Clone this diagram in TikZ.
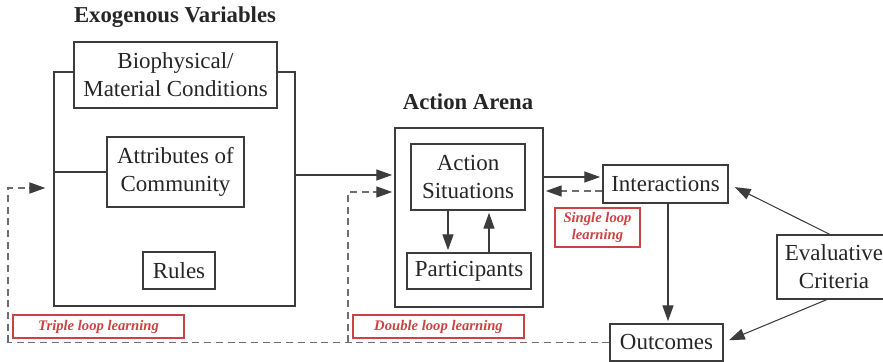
\documentclass[tikz,border=0pt]{standalone}
\usepackage{fontspec}
\setmainfont{Liberation Serif}
\usepackage{xcolor}
\usetikzlibrary{arrows.meta,positioning,calc}

\definecolor{linegray}{RGB}{60,60,60}
\definecolor{dashgray}{RGB}{110,110,110}
\definecolor{loopred}{RGB}{204,66,66}

\begin{document}
\begin{tikzpicture}[x=0.03cm, y=-0.03cm, >={Triangle[length=13.5pt,width=9.5pt,color=linegray]},
    box/.style={draw=linegray, line width=0.9pt, fill=white, inner sep=0pt, align=center,
        text=black!85, font=\fontsize{19.6}{23.8}\selectfont},
    title/.style={font=\fontsize{19.4}{23}\selectfont\bfseries, text=black!85},
    loopbox/.style={draw=loopred, line width=1.1pt, inner sep=0pt, align=center, text=loopred,
        font=\fontsize{12.5}{15}\selectfont\bfseries\itshape},
    link/.style={draw=linegray, line width=0.9pt, shorten >=2pt},
    feedback/.style={draw=dashgray, line width=0.9pt, dash pattern=on 6pt off 4pt, shorten >=2pt}]
    \useasboundingbox (0,0) rectangle (883,362);
    \clip (0,0) rectangle (883,362);

    % Exogenous variables
    \node[title] (exotitle) at (175,17) {Exogenous Variables};
    \node[box, minimum width=241*0.03cm, minimum height=234*0.03cm] (exo) at (174.5,189) {};
    \node[box, minimum width=203*0.03cm, minimum height=66*0.03cm] (bio) at (175.5,75) {Biophysical/\\Material Conditions};
    \node[box, minimum width=137*0.03cm, minimum height=70*0.03cm] (attr) at (175.5,172) {Attributes of\\Community};
    \node[box, minimum width=72*0.03cm, minimum height=37*0.03cm] (rules) at (179,270.5) {Rules};
    \draw[link, shorten >=0pt] (attr.west) -- (attr.west -| exo.west);

    % Action arena
    \node[title] (arenatitle) at (468,102) {Action Arena};
    \node[box, minimum width=148*0.03cm, minimum height=179*0.03cm] (arena) at (469,217.5) {};
    \node[box, minimum width=114*0.03cm, minimum height=66*0.03cm] (situ) at (468,177) {Action\\Situations};
    \node[box, minimum width=124*0.03cm, minimum height=36*0.03cm] (part) at (469,271) {Participants};
    \draw[link, ->] (situ.south -| 448,0) -- (part.north -| 448,0);
    \draw[link, ->] (part.north -| 489,0) -- (situ.south -| 489,0);

    % Outcomes and evaluation
    \node[box, minimum width=125*0.03cm, minimum height=38*0.03cm] (inter) at (665.5,184) {Interactions};
    \node[box, minimum width=113*0.03cm, minimum height=37*0.03cm] (outc) at (666.5,342.5) {Outcomes};
    \node[box, minimum width=114*0.03cm, minimum height=64*0.03cm] (evalc) at (834,267) {Evaluative\\Criteria};

    \draw[link, ->] (exo.east |- 0,175) -- (arena.west |- 0,175);
    \draw[link, ->] (arena.east |- 0,177) -- (inter.west |- 0,177);
    \draw[link, ->] (inter.south -| 668,0) -- (outc.north -| 668,0);
    \draw[link, ->, shorten >=6pt] ($(evalc.north)+(-4,0)$) -- (inter.east);
    \draw[link, ->, shorten >=5pt] ($(evalc.south)+(-7,0)$) -- (outc.east);

    % Learning loops
    \coordinate (dbl) at (348,342.5);
    \coordinate (tpl) at (8,342.5);
    \draw[feedback, ->] (inter.west |- 0,191) -- (arena.east |- 0,191);
    \draw[feedback, shorten >=0pt] (outc.west) -- (tpl);
    \draw[feedback, ->] (dbl) -- (dbl |- 0,192) -- (arena.west |- 0,192);
    \draw[feedback, ->, shorten >=7pt] (tpl) -- (tpl |- 0,188) -- (exo.west |- 0,188);

    \node[loopbox, minimum width=171*0.03cm, minimum height=23*0.03cm] (triple) at (98.5,326.5) {Triple loop learning};
    \node[loopbox, minimum width=171*0.03cm, minimum height=23*0.03cm] (double) at (438.5,326.5) {Double loop learning};
    \node[loopbox, minimum width=85*0.03cm, minimum height=39*0.03cm] (single) at (597.5,227.5) {Single loop\\learning};
\end{tikzpicture}
\end{document}
